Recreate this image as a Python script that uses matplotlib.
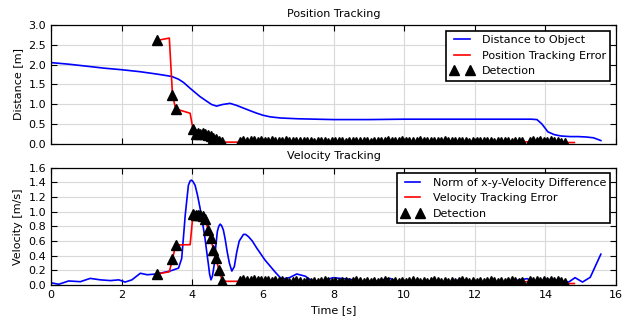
import numpy as np
import matplotlib
matplotlib.use('Agg')
import matplotlib.pyplot as plt

# distance to object (top panel, blue)
dist_t = [0, 0.5, 1.0, 1.5, 2.0, 2.52, 3.0, 3.42, 3.61, 3.75, 3.94, 4.1, 4.22, 4.4, 4.55,
          4.69, 4.85, 5.07, 5.25, 5.45, 5.65, 5.83, 6.0, 6.2, 6.5, 7.0, 8.0, 9.0, 10.0,
          11.0, 12.0, 13.0, 13.6, 13.76, 13.9, 14.07, 14.25, 14.44, 14.7, 14.93, 15.15,
          15.36, 15.57]
dist_v = [2.05, 2.01, 1.96, 1.91, 1.87, 1.82, 1.76, 1.70, 1.63, 1.55, 1.40, 1.28, 1.19, 1.08,
          0.99, 0.95, 0.99, 1.02, 0.97, 0.90, 0.83, 0.77, 0.72, 0.68, 0.65, 0.63, 0.61, 0.61,
          0.62, 0.62, 0.62, 0.62, 0.62, 0.61, 0.50, 0.30, 0.23, 0.195, 0.18, 0.18, 0.17,
          0.15, 0.08]

# norm of x-y velocity difference (bottom panel, blue)
vel_t = [0, 0.22, 0.5, 0.83, 1.11, 1.4, 1.68, 1.92, 2.1, 2.29, 2.53, 2.72, 2.99, 3.37, 3.61,
         3.70, 3.75, 3.80, 3.85, 3.89, 3.94, 3.98, 4.02, 4.08, 4.15, 4.22, 4.29, 4.36, 4.41,
         4.46, 4.49, 4.53, 4.57, 4.62, 4.66, 4.71, 4.75, 4.79, 4.83, 4.88, 4.93, 4.99, 5.05,
         5.12, 5.19, 5.26, 5.33, 5.45, 5.51, 5.59, 5.70, 5.83, 6.06, 6.34, 6.53, 6.75, 6.96,
         7.2, 7.38, 7.7, 7.98, 8.2, 8.47, 8.85, 9.2, 9.6, 9.8, 10.3, 10.83, 11.3, 11.59,
         11.96, 12.5, 13.0, 13.48, 13.71, 14.14, 14.52, 14.66, 14.84, 15.05, 15.27, 15.57]
vel_v = [0.03, 0.01, 0.055, 0.045, 0.09, 0.07, 0.06, 0.07, 0.04, 0.07, 0.16, 0.14, 0.15, 0.19,
         0.23, 0.36, 0.65, 0.95, 1.18, 1.36, 1.42, 1.43, 1.41, 1.36, 1.22, 1.05, 0.85, 0.64,
         0.45, 0.27, 0.15, 0.07, 0.12, 0.27, 0.50, 0.73, 0.80, 0.83, 0.81, 0.75, 0.63, 0.45,
         0.30, 0.19, 0.25, 0.45, 0.60, 0.69, 0.69, 0.66, 0.60, 0.50, 0.34, 0.18, 0.08, 0.10,
         0.15, 0.12, 0.06, 0.05, 0.10, 0.09, 0.077, 0.045, 0.05, 0.09, 0.045, 0.04, 0.06,
         0.03, 0.078, 0.045, 0.04, 0.05, 0.086, 0.045, 0.078, 0.045, 0.04, 0.10, 0.04,
         0.105, 0.42]

# detections, first (sparse) part
det_t_early = [3.0, 3.44, 3.53, 4.02, 4.1, 4.17, 4.23, 4.3, 4.37, 4.45, 4.52, 4.6, 4.67, 4.75, 4.85]
det_pos_early = [2.61, 1.23, 0.88, 0.36, 0.25, 0.27, 0.24, 0.26, 0.25, 0.22, 0.19, 0.15, 0.11, 0.08, 0.05]
det_vel_early = [0.15, 0.355, 0.545, 0.965, 0.96, 0.955, 0.95, 0.94, 0.90, 0.75, 0.64, 0.48, 0.37, 0.21, 0.06]

# detections, dense part (roughly every 0.1 s)
det_t_dense = np.concatenate([np.linspace(5.35, 13.35, 81), np.linspace(13.55, 14.55, 11)])
det_pos_dense = [0.05, 0.06, 0.05, 0.07, 0.06, 0.05, 0.06, 0.04, 0.05, 0.06,
                 0.05, 0.04, 0.05, 0.06, 0.05, 0.04, 0.05, 0.05, 0.04, 0.05,
                 0.04, 0.03, 0.04, 0.05, 0.04, 0.03, 0.04, 0.05, 0.04, 0.04,
                 0.03, 0.04, 0.05, 0.04, 0.04, 0.05, 0.04, 0.03, 0.04, 0.05,
                 0.04, 0.05, 0.06, 0.05, 0.04, 0.05, 0.06, 0.05, 0.05, 0.04,
                 0.05, 0.06, 0.05, 0.04, 0.05, 0.05, 0.04, 0.05, 0.06, 0.05,
                 0.04, 0.05, 0.04, 0.05, 0.04, 0.03, 0.04, 0.05, 0.04, 0.04,
                 0.05, 0.04, 0.03, 0.04, 0.05, 0.04, 0.04, 0.03, 0.04, 0.05,
                 0.04, 0.05, 0.06, 0.05, 0.06, 0.05, 0.04, 0.06, 0.05, 0.04,
                 0.03, 0.02]
det_vel_dense = [0.06, 0.07, 0.05, 0.06, 0.07, 0.06, 0.05, 0.06, 0.05, 0.04,
                 0.05, 0.04, 0.05, 0.04, 0.03, 0.04, 0.05, 0.04, 0.03, 0.04,
                 0.03, 0.04, 0.03, 0.04, 0.05, 0.04, 0.03, 0.04, 0.03, 0.04,
                 0.04, 0.03, 0.04, 0.05, 0.04, 0.03, 0.04, 0.03, 0.04, 0.03,
                 0.04, 0.05, 0.04, 0.03, 0.04, 0.03, 0.04, 0.03, 0.04, 0.05,
                 0.04, 0.03, 0.04, 0.03, 0.04, 0.05, 0.04, 0.03, 0.04, 0.03,
                 0.04, 0.03, 0.04, 0.05, 0.04, 0.03, 0.04, 0.03, 0.04, 0.03,
                 0.04, 0.05, 0.04, 0.03, 0.04, 0.03, 0.04, 0.05, 0.04, 0.03,
                 0.04, 0.05, 0.04, 0.05, 0.04, 0.05, 0.04, 0.05, 0.04, 0.05,
                 0.04, 0.03]

# tracking error (red): start and end pieces, middle follows detections
err_t_start = [3.0, 3.35, 3.44, 3.53, 3.94, 4.02, 4.1, 4.17, 4.23, 4.3, 4.37, 4.45, 4.52,
               4.6, 4.67, 4.75, 4.85, 4.97, 5.28]
pos_err_start = [2.61, 2.67, 1.23, 0.88, 0.77, 0.36, 0.25, 0.27, 0.24, 0.26, 0.25, 0.22, 0.19,
                 0.15, 0.11, 0.08, 0.05, 0.04, 0.04]
vel_err_start = [0.15, 0.18, 0.355, 0.545, 0.55, 0.965, 0.96, 0.955, 0.95, 0.94, 0.90, 0.75,
                 0.64, 0.48, 0.37, 0.21, 0.06, 0.05, 0.05]
err_t_end = [14.65, 14.82]
pos_err_end = [0.03, 0.03]
vel_err_end = [0.02, 0.02]

plt.rcParams['font.size'] = 8
plt.rcParams['xtick.direction'] = 'in'
plt.rcParams['ytick.direction'] = 'in'
plt.rcParams['xtick.top'] = True
plt.rcParams['ytick.right'] = True
plt.rcParams['xtick.major.size'] = 4
plt.rcParams['ytick.major.size'] = 4
plt.rcParams['axes.linewidth'] = 0.9

fig = plt.figure(figsize=(6.33, 3.3), dpi=100)
ax1 = fig.add_axes([0.0806, 0.5645, 0.8926, 0.3597])
ax2 = fig.add_axes([0.0806, 0.1364, 0.8926, 0.3555])

det_t = list(det_t_early) + list(det_t_dense)

# top panel
ax1.plot(dist_t, dist_v, color='b', lw=1.2, label='Distance to Object')
ax1.plot(err_t_start + list(det_t_dense) + err_t_end,
         pos_err_start + det_pos_dense + pos_err_end,
         color='r', lw=1.2, label='Position Tracking Error')
ax1.plot(det_t, det_pos_early + det_pos_dense, '^', color='k', ms=7, ls='none',
         label='Detection')
ax1.set_xlim(0, 16)
ax1.set_ylim(0, 3.0)
ax1.set_yticks(np.arange(0, 3.01, 0.5))
ax1.set_xticks(np.arange(0, 17, 2))
ax1.set_xticklabels([])
ax1.set_ylabel('Distance [m]')
ax1.set_title('Position Tracking', fontsize=8)
ax1.grid(True, color='0.85', lw=0.8)
ax1.set_axisbelow(True)
ax1.legend(loc='upper right', numpoints=2, fancybox=False, framealpha=1,
           edgecolor='k', fontsize=8, handlelength=2.0, borderaxespad=0.5)
ax1.get_legend().get_frame().set_linewidth(1.2)

# bottom panel
ax2.plot(vel_t, vel_v, color='b', lw=1.2, label='Norm of x-y-Velocity Difference')
ax2.plot(err_t_start + list(det_t_dense) + err_t_end,
         vel_err_start + det_vel_dense + vel_err_end,
         color='r', lw=1.2, label='Velocity Tracking Error')
ax2.plot(det_t, det_vel_early + det_vel_dense, '^', color='k', ms=7, ls='none',
         label='Detection')
ax2.set_xlim(0, 16)
ax2.set_ylim(0, 1.6)
ax2.set_yticks(np.arange(0, 1.61, 0.2))
ax2.set_xticks(np.arange(0, 17, 2))
ax2.set_xlabel('Time [s]')
ax2.set_ylabel('Velocity [m/s]')
ax2.set_title('Velocity Tracking', fontsize=8)
ax2.grid(True, color='0.85', lw=0.8)
ax2.set_axisbelow(True)
ax2.legend(loc='upper right', numpoints=2, fancybox=False, framealpha=1,
           edgecolor='k', fontsize=8, handlelength=2.0, borderaxespad=0.5)
ax2.get_legend().get_frame().set_linewidth(1.2)

fig.savefig('out.png', dpi=100)
